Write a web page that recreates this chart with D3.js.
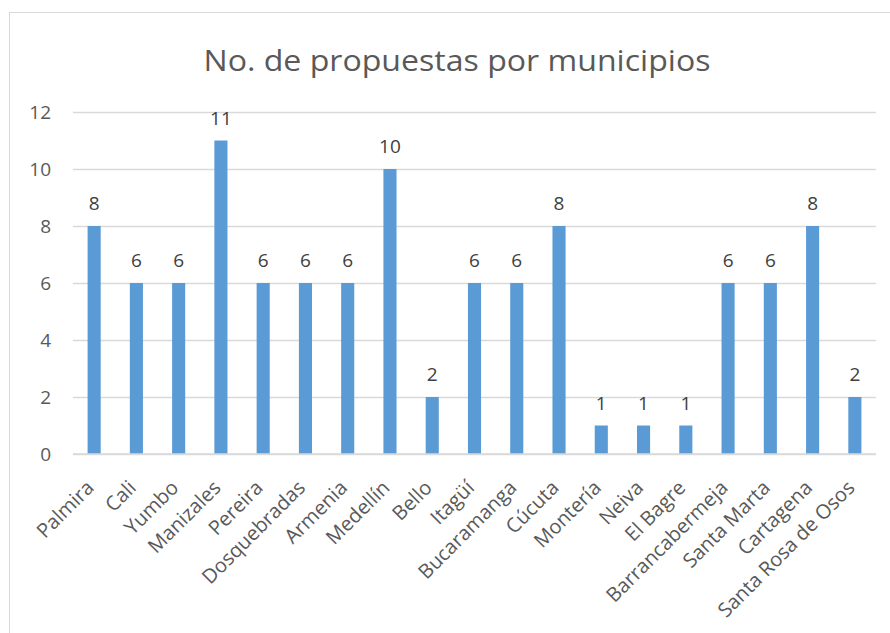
<!DOCTYPE html>
<html>
<head>
<meta charset="utf-8">
<script src="https://cdn.jsdelivr.net/npm/d3@7"></script>
<style>
  body { margin: 0; background: #fff; }
  svg { display: block; }
</style>
</head>
<body>
<div id="root"></div>
<script>
const municipios = ['Palmira', 'Cali', 'Yumbo', 'Manizales', 'Pereira', 'Dosquebradas', 'Armenia', 'Medellín', 'Bello', 'Itagüí', 'Bucaramanga', 'Cúcuta', 'Montería', 'Neiva', 'El Bagre', 'Barrancabermeja', 'Santa Marta', 'Cartagena', 'Santa Rosa de Osos']
const propuestas = [8, 6, 6, 11, 6, 6, 6, 10, 2, 6, 6, 8, 1, 1, 1, 6, 6, 8, 2]
const yTicks = [0, 2, 4, 6, 8, 10, 12]
const title = 'No. de propuestas por municipios'

const width = 890
const height = 633
const plot = { left: 73, right: 876, top: 112, bottom: 454 }

const svg = d3.create('svg')
  .attr('width', width)
  .attr('height', height)
  .style('font-family', '"Open Sans", sans-serif')

// chart frame
svg.append('rect')
  .attr('x', 9.5)
  .attr('y', 12.5)
  .attr('width', 900)
  .attr('height', 700)
  .attr('fill', '#fff')
  .attr('stroke', '#d9d9d9')

// title
svg.append('text')
  .attr('x', 457)
  .attr('y', 71)
  .attr('text-anchor', 'middle')
  .attr('fill', '#595959')
  .attr('font-size', 30)
  .attr('textLength', 507)
  .attr('lengthAdjust', 'spacingAndGlyphs')
  .text(title)

const x = d3.scaleBand()
  .domain(municipios)
  .range([plot.left, plot.right])
  .paddingInner(0.69)
  .paddingOuter(0.345)

const y = d3.scaleLinear()
  .domain([0, 12])
  .range([plot.bottom, plot.top])

// y-axis with gridlines
const axisY = d3.axisLeft(y)
  .tickValues(yTicks)
  .tickSize(-(plot.right - plot.left))
  .tickPadding(22)

const gY = svg.append('g')
  .attr('transform', `translate(${plot.left}, 0)`)
  .call(axisY)
gY.select('.domain').remove()
gY.selectAll('.tick line')
  .attr('stroke', '#d9d9d9')
  .attr('stroke-width', 1.3)
gY.selectAll('.tick text')
  .attr('fill', '#595959')
  .attr('font-size', 19)
  .attr('font-family', '"Open Sans", sans-serif')

// bars
svg.append('g')
  .selectAll('rect')
  .data(propuestas)
  .join('rect')
  .attr('x', (d, i) => x(municipios[i]))
  .attr('y', d => y(d))
  .attr('width', x.bandwidth())
  .attr('height', d => y(0) - y(d))
  .attr('fill', '#5b9bd5')

// data labels
svg.append('g')
  .selectAll('text')
  .data(propuestas)
  .join('text')
  .attr('x', (d, i) => x(municipios[i]) + x.bandwidth() / 2)
  .attr('y', d => y(d) - 16)
  .attr('text-anchor', 'middle')
  .attr('fill', '#404040')
  .attr('font-size', 19)
  .text(d => d)

// x-axis line
svg.append('line')
  .attr('x1', plot.left)
  .attr('x2', plot.right)
  .attr('y1', y(0))
  .attr('y2', y(0))
  .attr('stroke', '#d9d9d9')
  .attr('stroke-width', 1.3)

// category labels
svg.append('g')
  .selectAll('text')
  .data(municipios)
  .join('text')
  .attr('transform', d => `translate(${x(d) + x.bandwidth() / 2 + 1}, 489) rotate(-45)`)
  .attr('text-anchor', 'end')
  .attr('fill', '#595959')
  .attr('font-size', 20)
  .text(d => d)

document.getElementById('root').appendChild(svg.node())
</script>
</body>
</html>
